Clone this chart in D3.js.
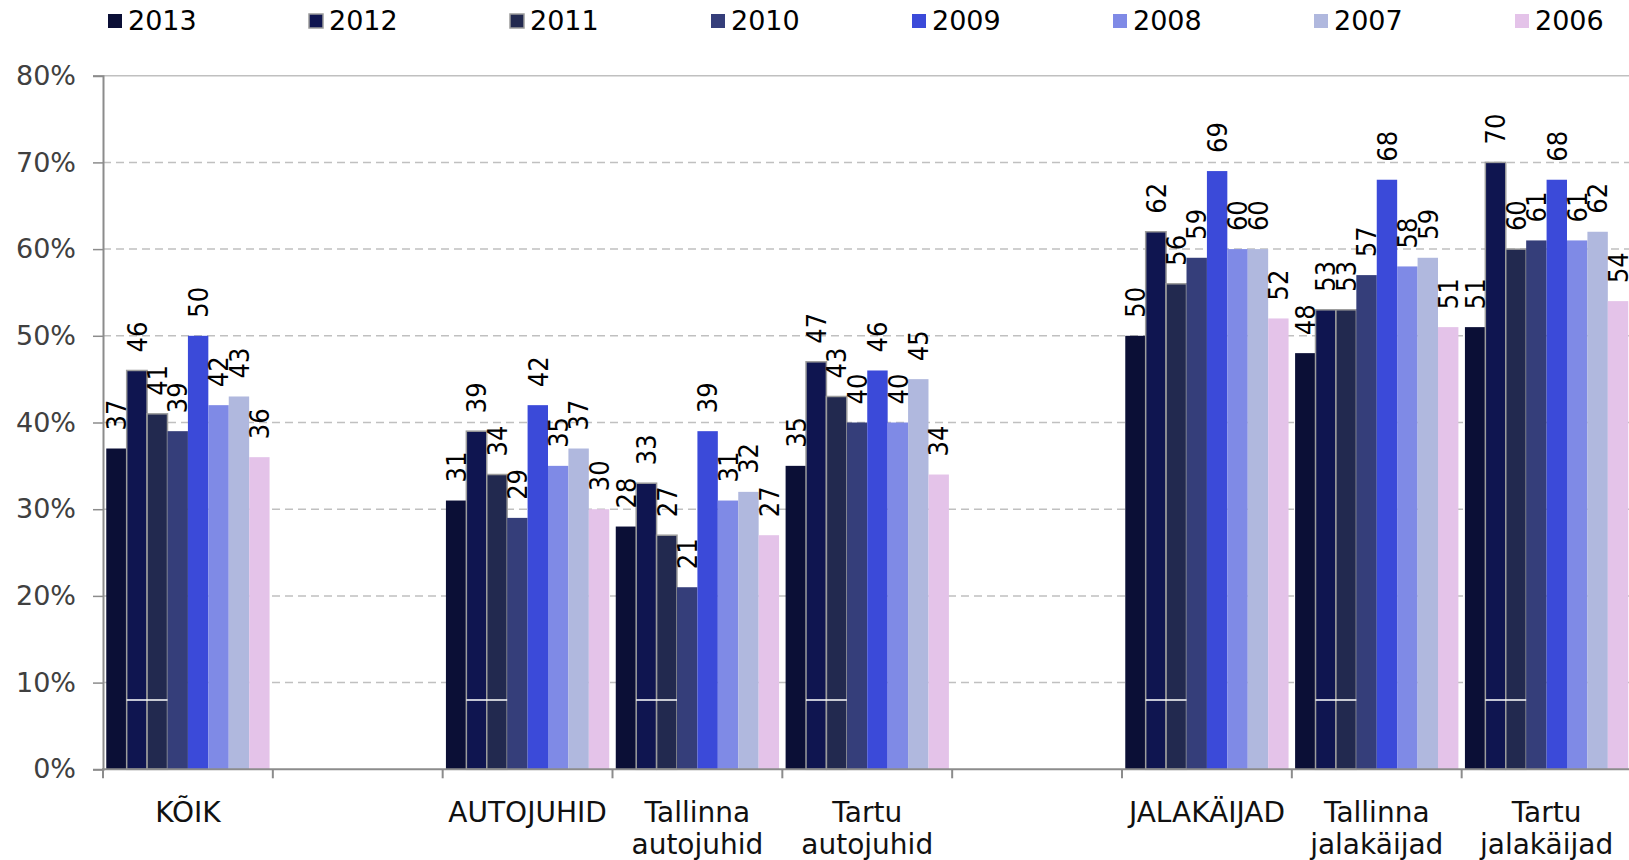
<!DOCTYPE html>
<html>
<head>
<meta charset="utf-8">
<script src="https://cdn.jsdelivr.net/npm/d3@7"></script>
<style>
  body { margin: 0; background: #fff; }
  svg { display: block; }
</style>
</head>
<body>
<svg id="chart" width="1629" height="860"></svg>
<script>
// years (series) and their colours
const years = ["2013", "2012", "2011", "2010", "2009", "2008", "2007", "2006"];
const colors = ["#0b0f36", "#0f1550", "#22294f", "#353e7a", "#3b4ad9", "#7f8ae6", "#b0b8de", "#e4c3e9"];
const strokes = [null, "#9c9c9c", "#9c9c9c", null, null, null, null, null];

// category labels (empty slots are spacers in the original chart)
const categoryLines = [
  ["KÕIK"],
  [],
  ["AUTOJUHID"],
  ["Tallinna", "autojuhid"],
  ["Tartu", "autojuhid"],
  [],
  ["JALAKÄIJAD"],
  ["Tallinna", "jalakäijad"],
  ["Tartu", "jalakäijad"]
];

// values in %, one per year 2013..2006
const valuesKoik = [37, 46, 41, 39, 50, 42, 43, 36];
const valuesAutojuhid = [31, 39, 34, 29, 42, 35, 37, 30];
const valuesTallinnaAuto = [28, 33, 27, 21, 39, 31, 32, 27];
const valuesTartuAuto = [35, 47, 43, 40, 46, 40, 45, 34];
const valuesJalakaijad = [50, 62, 56, 59, 69, 60, 60, 52];
const valuesTallinnaJala = [48, 53, 53, 57, 68, 58, 59, 51];
const valuesTartuJala = [51, 70, 60, 61, 68, 61, 62, 54];

const rows = [valuesKoik, null, valuesAutojuhid, valuesTallinnaAuto, valuesTartuAuto,
  null, valuesJalakaijad, valuesTallinnaJala, valuesTartuJala];

const yTicks = [0, 10, 20, 30, 40, 50, 60, 70, 80];

const svg = d3.select("#chart");
const W = 1629;
const plotLeft = 103, plotBottom = 769.3, plotTop = 75.7;

const x = d3.scaleBand().domain(d3.range(rows.length)).range([plotLeft, 1631.5]);
const xi = d3.scaleBand().domain(years).range([0, x.bandwidth()]).paddingOuter(0.16);
const y = d3.scaleLinear().domain([0, 80]).range([plotBottom, plotTop]);

// gridlines
svg.append("g").selectAll("line")
  .data(yTicks.filter(d => d > 0))
  .join("line")
  .attr("x1", plotLeft).attr("x2", W)
  .attr("y1", d => y(d)).attr("y2", d => y(d))
  .attr("stroke", "#c0c0c0")
  .attr("stroke-width", 1.5)
  .attr("stroke-dasharray", d => d === 80 ? null : "8,5");

// y axis
const yAxis = svg.append("g")
  .attr("transform", `translate(${plotLeft},0)`)
  .call(d3.axisLeft(y).tickValues(yTicks).tickFormat(d => d + "%").tickSize(10).tickPadding(17));
yAxis.select(".domain").attr("stroke", "#8c8c8c").attr("stroke-width", 2);
yAxis.selectAll(".tick line").attr("stroke", "#8c8c8c").attr("stroke-width", 1.5);
yAxis.selectAll(".tick text")
  .attr("font-family", "'DejaVu Sans', Verdana, sans-serif")
  .attr("font-size", 27)
  .attr("fill", "#404040");

// bars
const groups = svg.append("g").selectAll("g")
  .data(rows.map((r, i) => ({ i, r })).filter(d => d.r))
  .join("g")
  .attr("transform", d => `translate(${x(d.i)},0)`);

groups.selectAll("rect")
  .data(d => d.r.map((v, k) => ({ v, k })))
  .join("rect")
  .attr("x", d => xi(years[d.k]))
  .attr("width", xi.bandwidth())
  .attr("y", d => y(d.v))
  .attr("height", d => plotBottom - y(d.v))
  .attr("fill", d => colors[d.k])
  .attr("stroke", d => strokes[d.k] || "none")
  .attr("stroke-width", 1.5);

// white line across the 2012 and 2011 bars (artefact of the original)
groups.append("line")
  .attr("x1", xi("2012"))
  .attr("x2", xi("2011") + xi.bandwidth())
  .attr("y1", y(8)).attr("y2", y(8))
  .attr("stroke", "#fff")
  .attr("stroke-width", 1.5);

// value labels
groups.selectAll("text.val")
  .data(d => d.r.map((v, k) => ({ v, k })))
  .join("text")
  .attr("class", "val")
  .attr("transform", d => `translate(${xi(years[d.k]) + xi.bandwidth() / 2},${y(d.v) - 18}) rotate(-90)`)
  .attr("dy", "0.36em")
  .attr("font-family", "'DejaVu Sans Condensed', 'DejaVu Sans', sans-serif")
  .attr("font-stretch", "condensed")
  .attr("font-size", 27)
  .attr("fill", "#000")
  .text(d => d.v);

// x axis
svg.append("line")
  .attr("x1", plotLeft - 1).attr("x2", W)
  .attr("y1", plotBottom).attr("y2", plotBottom)
  .attr("stroke", "#8c8c8c").attr("stroke-width", 2);

svg.append("g").selectAll("line")
  .data(d3.range(rows.length))
  .join("line")
  .attr("x1", d => x(d)).attr("x2", d => x(d))
  .attr("y1", plotBottom).attr("y2", plotBottom + 9)
  .attr("stroke", "#8c8c8c").attr("stroke-width", 2);

// category labels
const catText = svg.append("g").selectAll("text")
  .data(categoryLines.map((lines, i) => ({ lines, i })))
  .join("text")
  .attr("x", d => x(d.i) + x.bandwidth() / 2)
  .attr("y", 812)
  .attr("text-anchor", "middle")
  .attr("font-family", "'DejaVu Sans', Verdana, sans-serif")
  .attr("font-size", 28)
  .attr("fill", "#111");

catText.selectAll("tspan")
  .data(d => d.lines.map((t, j) => ({ t, j, cx: x(d.i) + x.bandwidth() / 2 })))
  .join("tspan")
  .attr("x", d => d.cx)
  .attr("dy", d => d.j === 0 ? "0.36em" : "31.5")
  .text(d => d.t);

// legend
const legend = svg.append("g").selectAll("g")
  .data(years)
  .join("g")
  .attr("transform", (d, i) => `translate(${108 + i * 201},0)`);

legend.append("rect")
  .attr("x", 0).attr("y", 14)
  .attr("width", 14).attr("height", 14)
  .attr("fill", (d, i) => colors[i])
  .attr("stroke", (d, i) => strokes[i] || "none")
  .attr("stroke-width", 1.5);

legend.append("text")
  .attr("x", 20).attr("y", 30)
  .attr("font-family", "'DejaVu Sans', Verdana, sans-serif")
  .attr("font-size", 27)
  .attr("fill", "#000")
  .text(d => d);
</script>
</body>
</html>
